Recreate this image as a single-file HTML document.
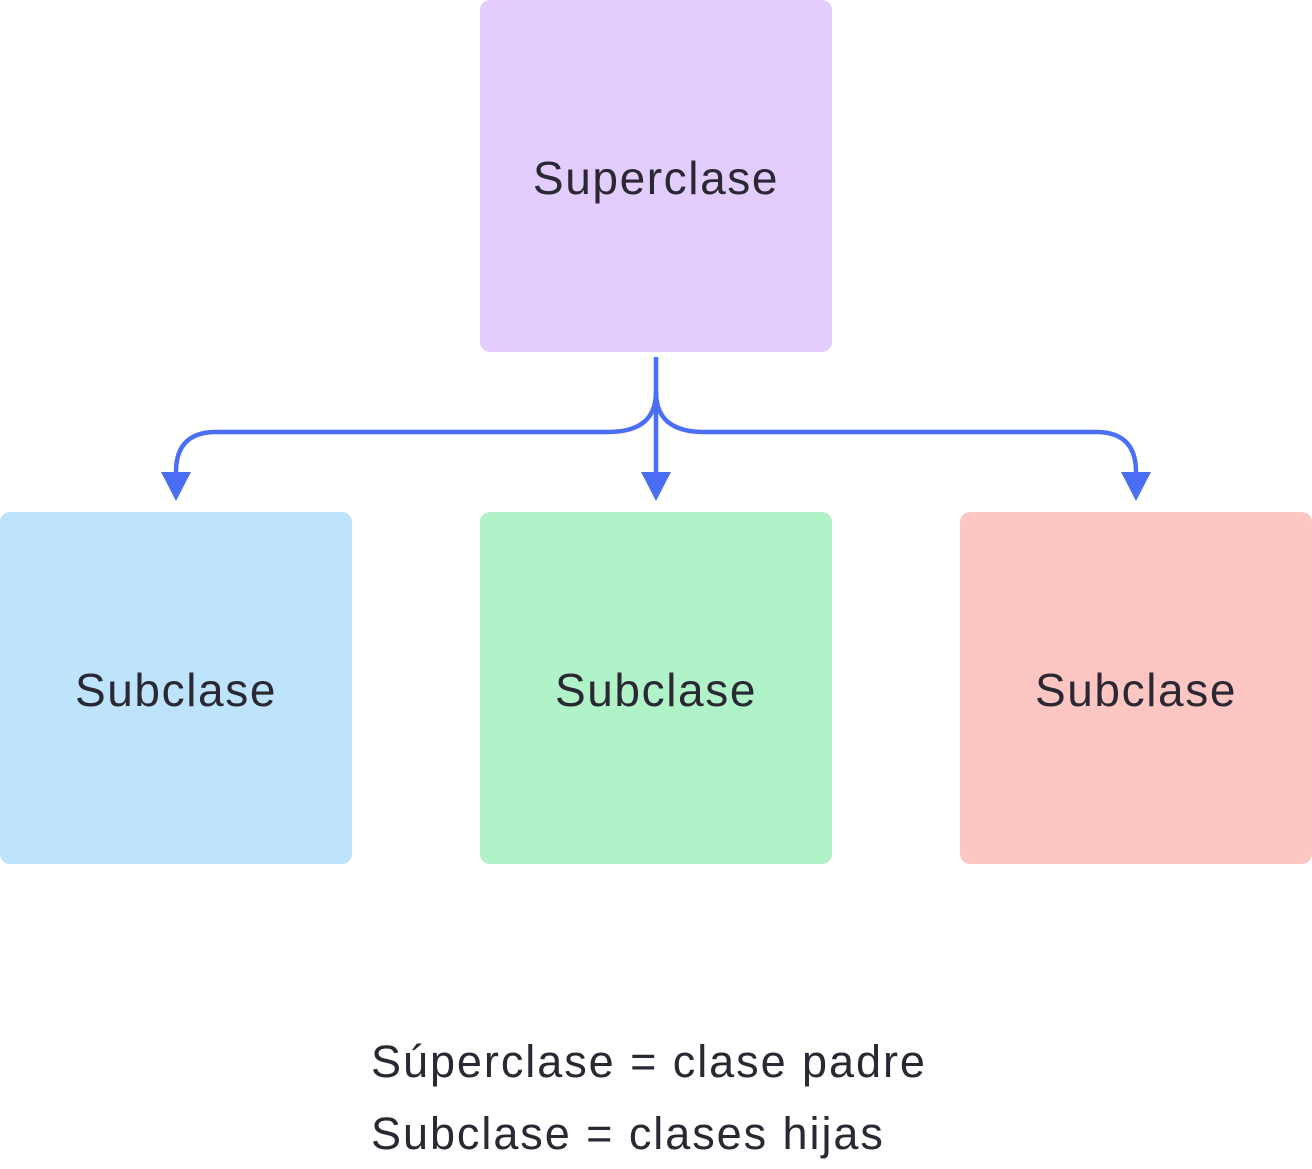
<!DOCTYPE html>
<html><head><meta charset="utf-8"><style>
html,body{margin:0;padding:0;background:#fff;}
body{width:1312px;height:1169px;position:relative;overflow:hidden;font-family:"Liberation Sans",sans-serif;color:#2a2833;}
.b{position:absolute;width:352px;height:352px;border-radius:10px;display:flex;align-items:center;justify-content:center;font-size:46px;letter-spacing:1.6px;padding-top:4px;box-sizing:border-box;}
.t{position:absolute;left:371px;font-size:45px;line-height:1;letter-spacing:1.95px;}
</style></head><body>
<div class="b" style="left:480px;top:0;background:#e3ccfe;">Superclase</div>
<div class="b" style="left:0;top:512px;background:#bde3fd;">Subclase</div>
<div class="b" style="left:480px;top:512px;background:#b0f3c9;">Subclase</div>
<div class="b" style="left:960px;top:512px;background:#fec6c2;">Subclase</div>
<svg width="1312" height="1169" style="position:absolute;left:0;top:0">
<g fill="none" stroke="#4c6ef5" stroke-width="4.5">
<path d="M656 357 V480"/>
<path d="M656 392 Q656 432 608 432 H216 Q176 432 176 472 V480"/>
<path d="M656 392 Q656 432 704 432 H1096 Q1136 432 1136 472 V480"/>
</g>
<g fill="#4c6ef5">
<path d="M641 472 H671 L656 501 Z"/>
<path d="M161 472 H191 L176 501 Z"/>
<path d="M1121 472 H1151 L1136 501 Z"/>
</g>
</svg>
<div class="t" style="top:1039px;">Súperclase = clase padre</div>
<div class="t" style="top:1111px;">Subclase = clases hijas</div>
</body></html>
